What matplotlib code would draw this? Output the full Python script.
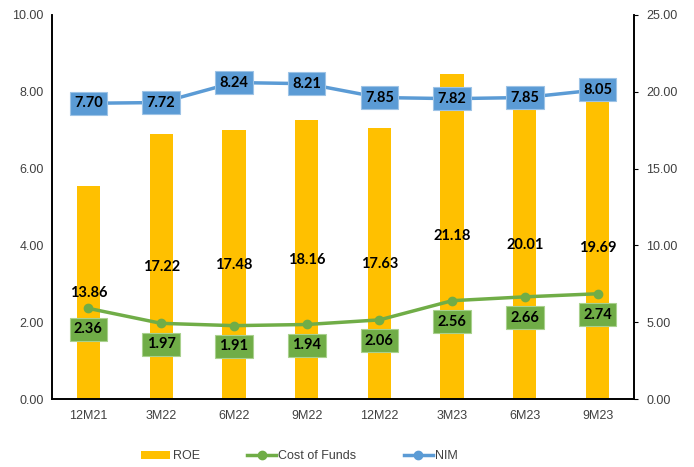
import numpy as np
import matplotlib.pyplot as plt

# quarterly figures
periods = ["12M21", "3M22", "6M22", "9M22", "12M22", "3M23", "6M23", "9M23"]
roe = [13.86, 17.22, 17.48, 18.16, 17.63, 21.18, 20.01, 19.69]
cost_of_funds = [2.36, 1.97, 1.91, 1.94, 2.06, 2.56, 2.66, 2.74]
nim = [7.70, 7.72, 8.24, 8.21, 7.85, 7.82, 7.85, 8.05]

gold = "#FFC000"
green = "#70AD47"
blue = "#5B9BD5"
txt = "#404040"
lab_font = ["Lato", "DejaVu Sans"]

plt.rcParams["font.family"] = ["Liberation Sans", "DejaVu Sans"]

fig = plt.figure(figsize=(6.94, 4.67), dpi=100)
ax = fig.add_axes([0.075, 0.1456, 0.8385, 0.8224])
ax2 = ax.twinx()

x = np.arange(len(periods))

# ROE bars on the right-hand scale
ax2.bar(x, roe, width=0.32, color=gold, zorder=1, label="ROE")
for xi, v in zip(x, roe):
    ax2.text(xi, v / 2, f"{v:.2f}", ha="center", va="center", fontsize=10.5,
             fontweight="bold", color="black", family=lab_font, zorder=5)
ax2.set_ylim(0, 25)
ax2.set_yticks(np.arange(0, 25.1, 5))
ax2.set_yticklabels([f"{t:.2f}" for t in np.arange(0, 25.1, 5)])

# lines on the left-hand scale, drawn above the bars
ax.set_zorder(ax2.get_zorder() + 1)
ax.patch.set_visible(False)
ax.plot(x, cost_of_funds, color=green, lw=2.5, marker="o", ms=6, zorder=3,
        label="Cost of Funds")
ax.plot(x, nim, color=blue, lw=2.5, marker="o", ms=6, zorder=3, label="NIM")

for xi, v in zip(x, nim):
    ax.text(xi, v, f"{v:.2f}", ha="center", va="center", fontsize=10.5,
            fontweight="bold", color="black", family=lab_font, zorder=6,
            bbox=dict(boxstyle="square,pad=0.3", fc=blue, ec="#9DC3E6", lw=0.8))
for xi, v in zip(x, cost_of_funds):
    ax.annotate(f"{v:.2f}", (xi, v), xytext=(0, -15), textcoords="offset points",
                ha="center", va="center", fontsize=10.5, fontweight="bold",
                color="black", family=lab_font, zorder=6,
                bbox=dict(boxstyle="square,pad=0.3", fc=green, ec="#A9D18E", lw=0.8))

ax.set_ylim(0, 10)
ax.set_yticks(np.arange(0, 10.1, 2))
ax.set_yticklabels([f"{t:.2f}" for t in np.arange(0, 10.1, 2)])
ax.set_xlim(-0.5, len(periods) - 0.5)
ax.set_xticks(x)
ax.set_xticklabels(periods)

for a in (ax, ax2):
    a.spines["top"].set_visible(False)
    for s in ("left", "right", "bottom"):
        a.spines[s].set_color("black")
        a.spines[s].set_linewidth(1.2)
    a.tick_params(labelsize=9, colors=txt, length=0, pad=6)
ax2.tick_params(axis="y", length=3, color="black", pad=6)
ax.tick_params(axis="x", pad=8)

handles = [ax2.containers[0], ax.lines[0], ax.lines[1]]
fig.legend(handles, ["ROE", "Cost of Funds", "NIM"], loc="center",
           bbox_to_anchor=(0.432, 0.023), ncol=3, frameon=False, fontsize=9,
           columnspacing=3.8, handlelength=2.3, handletextpad=0.2,
           labelcolor=txt)

fig.savefig("out.png", dpi=100)
